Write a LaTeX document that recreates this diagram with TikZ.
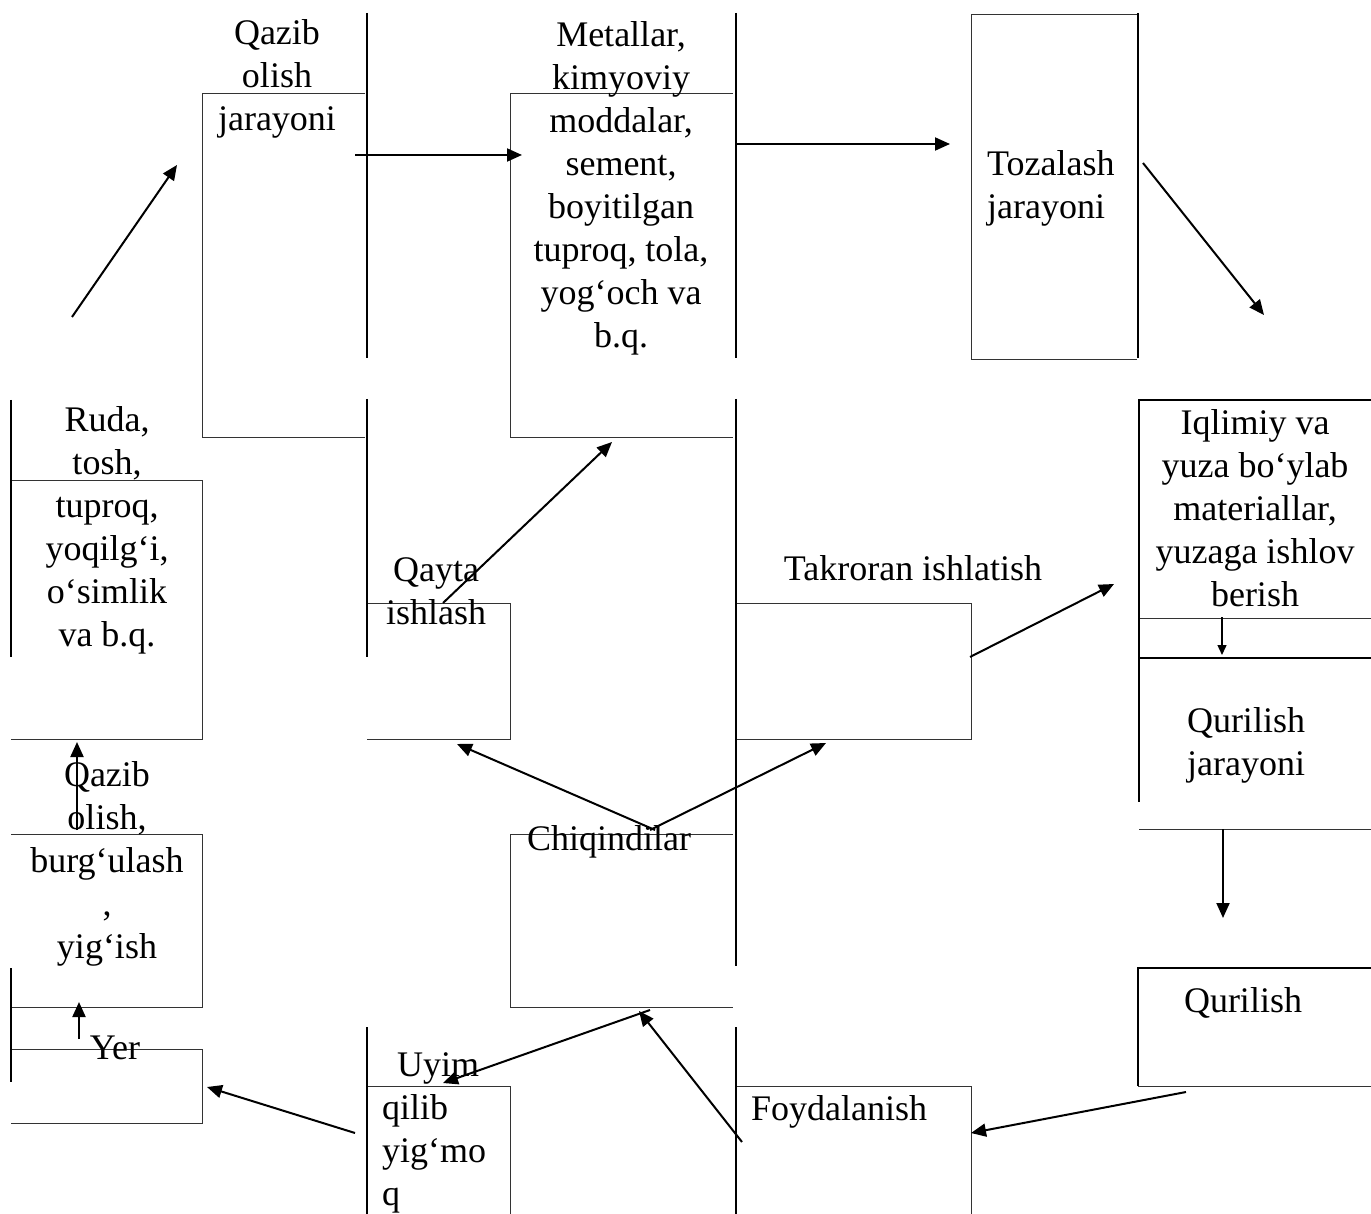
\documentclass[tikz,border=0pt]{standalone}
\usepackage{fontspec}
\setmainfont{Liberation Serif}
\usepackage{tikz}
\usetikzlibrary{arrows.meta}

\tikzset{
  bar/.style={line width=2pt},
  box/.style={line width=1pt, black!80},
  frame/.style={line width=2pt},
  flow/.style={line width=2pt, -{Triangle[length=15pt,width=13pt]}},
  flowthin/.style={line width=1.4pt, -{Triangle[length=10pt,width=9pt]}},
  lbl/.style={inner sep=0pt, align=center, font=\fontsize{36}{43}\selectfont},
}

\begin{document}
\begin{tikzpicture}[x=1pt,y=-1pt]
                \useasboundingbox (0,0) rectangle (1371,1214);
                % thin box lines
                \draw[box] (365,94) -- (202,94) -- (202,438) -- (365,438);
                \draw[box] (733,94) -- (510,94) -- (510,438) -- (733,438);
                \draw[box] (1137,15) -- (971,15) -- (971,360) -- (1137,360);
                \draw[box] (11,480) -- (202,480) -- (202,739) -- (11,739);
                \draw[box] (367,603) -- (510,603) -- (510,739) -- (367,739);
                \draw[box] (736,603) -- (971,603) -- (971,739) -- (736,739);
                \draw[box] (733,834) -- (510,834) -- (510,1007) -- (733,1007);
                \draw[box] (11,834) -- (202,834) -- (202,1007) -- (11,1007);
                \draw[box] (11,1049) -- (202,1049) -- (202,1123) -- (11,1123);
                \draw[box] (367,1086) -- (510,1086) -- (510,1214);
                \draw[box] (736,1086) -- (971,1086) -- (971,1214);
                \draw[box] (1139,618) -- (1371,618);
                \draw[box] (1139,829) -- (1371,829);
                \draw[box] (1138,1086) -- (1371,1086);
                % heavy frames on the right
                \draw[frame] (1371,400) -- (1139,400) -- (1139,802);
                \draw[frame] (1139,658) -- (1371,658);
                \draw[frame] (1371,968) -- (1138,968) -- (1138,1086);
                % vertical bars
                \draw[bar] (367,13) -- (367,358);
                \draw[bar] (367,399) -- (367,657);
                \draw[bar] (367,1027) -- (367,1214);
                \draw[bar] (736,13) -- (736,358);
                \draw[bar] (736,399) -- (736,966);
                \draw[bar] (736,1027) -- (736,1214);
                \draw[bar] (1138,13) -- (1138,358);
                \draw[bar] (11,400) -- (11,657);
                \draw[bar] (11,968) -- (11,1082);

                % labels
                \node[lbl] (qazibtop) at (277,79) {Qazib\\olish\\jarayoni};
                \node[lbl] (metal) at (621,188) {Metallar,\\kimyoviy\\moddalar,\\sement,\\boyitilgan\\tuproq, tola,\\yog‘och va\\b.q.};
                \node[lbl, align=left, anchor=west] (tozal) at (987,188) {Tozalash\\jarayoni};
                \node[lbl] (ruda) at (107,530) {Ruda,\\tosh,\\tuproq,\\yoqilg‘i,\\o‘simlik\\va b.q.};
                \node[lbl] (qayta) at (436,591) {Qayta\\ishlash};
                \node[lbl] (takr) at (913,568) {Takroran ishlatish};
                \node[lbl] (iqlim) at (1255,508) {Iqlimiy va\\yuza bo‘ylab\\materiallar,\\yuzaga ishlov\\berish};
                \node[lbl] (qjar) at (1246,745) {Qurilish\\jarayoni};
                \node[lbl] (qur) at (1243,1003) {Qurilish};
                \node[lbl, anchor=west] (foyda) at (751,1112) {Foydalanish};
                \node[lbl, anchor=west] (chiq) at (527,842) {Chiqindilar};
                \node[lbl] (burg) at (107,864) {Qazib\\olish,\\burg‘ulash\\,\\yig‘ish};
                \node[lbl] (yer) at (115,1048) {Yer};
                \node[lbl, align=left, anchor=west] (uyim) at (382,1133) {\hspace*{15pt}Uyim\\qilib\\yig‘mo\\q};

                % arrow ends
                \coordinate (ruda-up) at (72,317);     \coordinate (qazib-in) at (177,165);
                \coordinate (qazib-out) at (355,155);  \coordinate (metal-in) at (522,155);
                \coordinate (metal-out) at (736,144);  \coordinate (tozal-in) at (950,144);
                \coordinate (tozal-out) at (1143,163); \coordinate (iqlim-in) at (1264,315);
                \coordinate (iqlim-down) at (1222,617);\coordinate (qjar-in) at (1222,655);
                \coordinate (qjar-out) at (1223,829);  \coordinate (qur-in) at (1223,918);
                \coordinate (qur-out) at (1186,1092);  \coordinate (foyda-in) at (971,1133);
                \coordinate (foyda-out) at (742,1142); \coordinate (chiq-in) at (639,1011);
                \coordinate (chiq-out) at (650,1010);  \coordinate (uyim-in) at (443,1083);
                \coordinate (uyim-out) at (355,1133);  \coordinate (yer-in) at (207,1087);
                \coordinate (yer-up) at (79,1039);     \coordinate (burg-in) at (79,1002);
                \coordinate (burg-up) at (77,830);     \coordinate (ruda-in) at (77,742);
                \coordinate (qayta-out) at (443,603);  \coordinate (metal-back) at (612,442);
                \coordinate (chiq-left) at (655,830);  \coordinate (qayta-in) at (457,744);
                \coordinate (chiq-right) at (650,830); \coordinate (takr-in) at (826,743);
                \coordinate (takr-out) at (970,657);   \coordinate (iqlim-side) at (1114,584);

                % arrows
                \draw[flow] (ruda-up) -- (qazib-in);
                \draw[flow] (qazib-out) -- (metal-in);
                \draw[flow] (metal-out) -- (tozal-in);
                \draw[flow] (tozal-out) -- (iqlim-in);
                \draw[flowthin] (iqlim-down) -- (qjar-in);
                \draw[flow] (qjar-out) -- (qur-in);
                \draw[flow] (qur-out) -- (foyda-in);
                \draw[flow] (foyda-out) -- (chiq-in);
                \draw[flow] (chiq-out) -- (uyim-in);
                \draw[flow] (uyim-out) -- (yer-in);
                \draw[flow] (yer-up) -- (burg-in);
                \draw[flow] (burg-up) -- (ruda-in);
                \draw[flow] (qayta-out) -- (metal-back);
                \draw[flow] (chiq-left) -- (qayta-in);
                \draw[flow] (chiq-right) -- (takr-in);
                \draw[flow] (takr-out) -- (iqlim-side);
            \end{tikzpicture}
\end{document}
